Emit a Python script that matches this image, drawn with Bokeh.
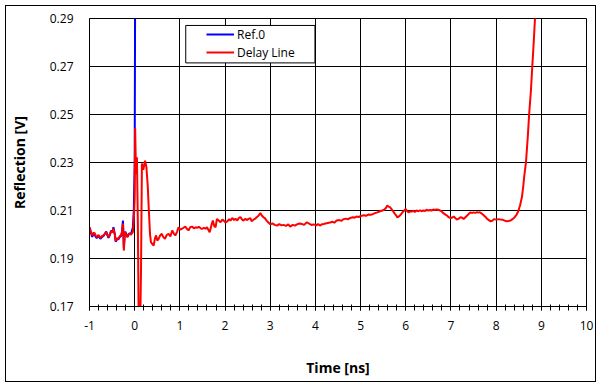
import numpy as np
from bokeh.plotting import figure
from bokeh.models import (Range1d, FixedTicker, Legend, LegendItem, BoxAnnotation,
                          NumeralTickFormatter, ColumnDataSource)
from bokeh.embed import file_html
from bokeh.resources import INLINE

# ---------------- data ----------------
time_delay = [
    -1.00, -0.97, -0.94, -0.91, -0.89, -0.86, -0.84, -0.80, -0.76, -0.72, -0.69, -0.66, -0.63, -0.60,
    -0.58, -0.55, -0.52, -0.49, -0.47, -0.44, -0.42, -0.39, -0.36, -0.33, -0.30, -0.28, -0.26, -0.25,
    -0.24, -0.22, -0.21, -0.18, -0.16, -0.13, -0.11, -0.08, -0.06, -0.04, -0.02, 0.00, 0.01, 0.03,
    0.05, 0.07, 0.09, 0.12, 0.14, 0.16, 0.19, 0.23, 0.26, 0.29, 0.31, 0.34, 0.36, 0.39, 0.42, 0.45,
    0.475, 0.50, 0.53, 0.56, 0.60, 0.63, 0.67, 0.71, 0.75, 0.79, 0.83, 0.87, 0.90, 0.94, 0.97, 1.01,
    1.04, 1.08, 1.12, 1.15, 1.19, 1.23, 1.27, 1.31, 1.35, 1.38, 1.42, 1.46, 1.49, 1.53, 1.57, 1.60,
    1.63, 1.66, 1.70, 1.73, 1.76, 1.79, 1.82, 1.86, 1.90, 1.94, 1.97, 2.01, 2.05, 2.09, 2.12, 2.16,
    2.20, 2.23, 2.27, 2.30, 2.34, 2.38, 2.41, 2.45, 2.48, 2.52, 2.56, 2.59, 2.63, 2.67, 2.70, 2.74,
    2.78, 2.81, 2.85, 2.88, 2.92, 2.96, 3.00, 3.05, 3.10, 3.15, 3.20, 3.25, 3.29, 3.35, 3.40, 3.44,
    3.50, 3.55, 3.59, 3.65, 3.70, 3.75, 3.81, 3.86, 3.91, 3.96, 4.02, 4.06, 4.10, 4.15, 4.18, 4.25,
    4.32, 4.38, 4.42, 4.47, 4.53, 4.58, 4.62, 4.68, 4.72, 4.77, 4.83, 4.87, 4.91, 4.96, 5.02, 5.08,
    5.12, 5.17, 5.23, 5.28, 5.32, 5.37, 5.43, 5.48, 5.52, 5.56, 5.59, 5.62, 5.65, 5.69, 5.72, 5.76,
    5.79, 5.81, 5.84, 5.87, 5.91, 5.95, 6.00, 6.03, 6.06, 6.10, 6.13, 6.17, 6.20, 6.24, 6.28, 6.32,
    6.35, 6.39, 6.43, 6.46, 6.50, 6.54, 6.57, 6.61, 6.65, 6.68, 6.72, 6.76, 6.80, 6.83, 6.87, 6.91,
    6.95, 7.00, 7.03, 7.06, 7.10, 7.13, 7.17, 7.21, 7.25, 7.28, 7.32, 7.36, 7.40, 7.43, 7.47, 7.50,
    7.54, 7.58, 7.61, 7.64, 7.69, 7.73, 7.77, 7.80, 7.84, 7.88, 7.92, 7.95, 8.00, 8.06, 8.10, 8.15,
    8.19, 8.23, 8.27, 8.32, 8.36, 8.41, 8.45, 8.49, 8.53, 8.57, 8.60, 8.62, 8.66, 8.70, 8.73, 8.77,
    8.80, 8.83, 8.86, 8.90,
]
refl_delay = [
    0.2030, 0.2012, 0.1996, 0.2008, 0.2006, 0.1995, 0.1989, 0.1998, 0.1986, 0.1994, 0.1996, 0.2003, 0.2010, 0.1997,
    0.1989, 0.2000, 0.2015, 0.2008, 0.2024, 0.2001, 0.1972, 0.1985, 0.1982, 0.1993, 0.1996, 0.2010, 0.2045, 0.2000,
    0.1933, 0.2000, 0.2010, 0.1995, 0.1989, 0.2000, 0.2003, 0.1999, 0.2006, 0.2010, 0.2058, 0.2150, 0.2444, 0.2250,
    0.2322, 0.2050, 0.1600, 0.1600, 0.1850, 0.2296, 0.2270, 0.2308, 0.2280, 0.2200, 0.2114, 0.2000, 0.1968, 0.1960, 0.1954, 0.1985,
    0.1996, 0.1975, 0.1982, 0.1995, 0.2003, 0.1990, 0.1982, 0.1998, 0.2003, 0.1992, 0.2017, 0.2003, 0.1996, 0.2012, 0.2030, 0.2020,
    0.2023, 0.2028, 0.2033, 0.2025, 0.2017, 0.2030, 0.2033, 0.2026, 0.2030, 0.2028, 0.2032, 0.2026, 0.2023, 0.2028, 0.2024, 0.2030,
    0.2020, 0.2009, 0.2040, 0.2058, 0.2035, 0.2030, 0.2065, 0.2058, 0.2051, 0.2062, 0.2058, 0.2050, 0.2055, 0.2064, 0.2058, 0.2069,
    0.2060, 0.2066, 0.2058, 0.2068, 0.2072, 0.2062, 0.2058, 0.2066, 0.2060, 0.2065, 0.2068, 0.2055, 0.2062, 0.2066, 0.2072, 0.2078,
    0.2089, 0.2080, 0.2072, 0.2068, 0.2058, 0.2050, 0.2042, 0.2046, 0.2040, 0.2037, 0.2043, 0.2038, 0.2040, 0.2036, 0.2042, 0.2033,
    0.2040, 0.2037, 0.2042, 0.2046, 0.2044, 0.2040, 0.2051, 0.2045, 0.2040, 0.2042, 0.2038, 0.2044, 0.2037, 0.2043, 0.2044, 0.2047,
    0.2050, 0.2053, 0.2049, 0.2058, 0.2060, 0.2057, 0.2064, 0.2066, 0.2063, 0.2069, 0.2072, 0.2070, 0.2075, 0.2073, 0.2078, 0.2080,
    0.2078, 0.2083, 0.2082, 0.2086, 0.2089, 0.2092, 0.2097, 0.2100, 0.2103, 0.2110, 0.2121, 0.2116, 0.2114, 0.2105, 0.2097, 0.2086,
    0.2079, 0.2072, 0.2074, 0.2079, 0.2088, 0.2097, 0.2106, 0.2098, 0.2092, 0.2096, 0.2096, 0.2099, 0.2094, 0.2100, 0.2097, 0.2101,
    0.2097, 0.2100, 0.2098, 0.2103, 0.2100, 0.2102, 0.2100, 0.2104, 0.2102, 0.2104, 0.2103, 0.2100, 0.2095, 0.2089, 0.2084, 0.2079,
    0.2072, 0.2069, 0.2071, 0.2075, 0.2068, 0.2062, 0.2066, 0.2072, 0.2070, 0.2065, 0.2072, 0.2079, 0.2087, 0.2092, 0.2090, 0.2092,
    0.2090, 0.2093, 0.2091, 0.2093, 0.2086, 0.2079, 0.2072, 0.2065, 0.2060, 0.2055, 0.2058, 0.2064, 0.2062, 0.2064, 0.2062, 0.2061,
    0.2058, 0.2055, 0.2056, 0.2058, 0.2064, 0.2072, 0.2082, 0.2097, 0.2122, 0.2155, 0.2200, 0.2239, 0.2300, 0.2405, 0.2500, 0.2600,
    0.2700, 0.2795, 0.2900, 0.3050,
]

time_ref = [
    -1.00, -0.97, -0.94, -0.91, -0.89, -0.86, -0.84, -0.80, -0.76, -0.72, -0.69, -0.66, -0.63, -0.60,
    -0.58, -0.55, -0.52, -0.49, -0.47, -0.44, -0.42, -0.39, -0.36, -0.33, -0.30, -0.28, -0.26, -0.25,
    -0.24, -0.22, -0.21, -0.18, -0.16, -0.13, -0.11, -0.08, -0.06, -0.04, -0.02, 0.00, 0.01, 0.03,
]
refl_ref = [
    0.2030, 0.2008, 0.1990, 0.2004, 0.2000, 0.1990, 0.1985, 0.1995, 0.1982, 0.1990, 0.1994, 0.2003, 0.2012, 0.1995,
    0.1986, 0.1998, 0.2017, 0.2010, 0.2031, 0.2000, 0.1970, 0.1980, 0.1980, 0.1990, 0.1994, 0.2012, 0.2058, 0.2010,
    0.1945, 0.2002, 0.2012, 0.1998, 0.1990, 0.2002, 0.2005, 0.2002, 0.2017, 0.2030, 0.2100, 0.2300, 0.3000, 0.4000,
]

x_ticks = [-1, 0, 1, 2, 3, 4, 5, 6, 7, 8, 9, 10]
y_ticks = [0.17, 0.19, 0.21, 0.23, 0.25, 0.27, 0.29]
series_names = ["Ref.0", "Delay Line"]

FONT = "Open Sans"

# ---------------- figure ----------------
p = figure(width=591, height=377, output_backend="svg", toolbar_location=None,
           x_range=Range1d(-1, 10), y_range=Range1d(0.17, 0.29),
           min_border_left=83, min_border_right=11, min_border_top=12, min_border_bottom=77,
           background_fill_color="white", border_fill_color="white")
p.styles = {"margin-left": "5px", "margin-top": "5px", "border": "1px solid black"}
p.outline_line_color = "black"
p.outline_line_width = 1
p.outline_line_alpha = 1

minor = [round(v, 2) for v in np.arange(-1, 10.001, 0.2)]
xticker = FixedTicker(ticks=x_ticks, minor_ticks=minor)
yticker = FixedTicker(ticks=y_ticks, minor_ticks=[])
p.xaxis.ticker = xticker
p.yaxis.ticker = yticker
p.xgrid.ticker = FixedTicker(ticks=x_ticks)
p.ygrid.ticker = FixedTicker(ticks=y_ticks)
for g in (p.xgrid, p.ygrid):
    g.grid_line_color = "black"
    g.grid_line_alpha = 1
    g.grid_line_width = 1

p.yaxis.formatter = NumeralTickFormatter(format="0.00")
p.xaxis.major_label_overrides = {-1: "-1"}
for ax in (p.xaxis, p.yaxis):
    ax.axis_line_color = "black"
    ax.major_label_text_font = FONT
    ax.major_label_text_font_size = "12px"
    ax.major_label_text_color = "black"
    ax.axis_label_text_font = FONT
    ax.axis_label_text_font_size = "14px"
    ax.axis_label_text_font_style = "bold"
    ax.axis_label_text_color = "black"
    ax.major_tick_line_color = "black"
    ax.minor_tick_line_color = "black"

p.xaxis.major_tick_in = 2
p.xaxis.major_tick_out = 4
p.xaxis.minor_tick_in = 2
p.xaxis.minor_tick_out = 4
p.xaxis.major_label_standoff = 10
p.xaxis.axis_label = "Time [ns]"
p.xaxis.axis_label_standoff = 25

p.yaxis.major_tick_in = 0
p.yaxis.major_tick_out = 0
p.yaxis.minor_tick_in = 0
p.yaxis.minor_tick_out = 0
p.yaxis.major_label_standoff = 16
p.yaxis.axis_label = "Reflection [V]"
p.yaxis.axis_label_standoff = 18

src_ref = ColumnDataSource(dict(t=time_ref, v=refl_ref))
src_del = ColumnDataSource(dict(t=time_delay, v=refl_delay))
r_ref = p.line("t", "v", source=src_ref, line_color="#0000FF", line_width=2)
r_del = p.line("t", "v", source=src_del, line_color="#FF0000", line_width=2)

# legend frame (white box with black border)
box = BoxAnnotation(left=1.13, right=3.99, top=0.2871, bottom=0.2715,
                    fill_color="white", fill_alpha=1, line_color="black", line_width=1,
                    line_alpha=1)
p.add_layout(box)

legend = Legend(items=[LegendItem(label=series_names[0], renderers=[r_ref]),
                       LegendItem(label=series_names[1], renderers=[r_del])],
                location=(117, 245), padding=0, margin=0, spacing=0,
                glyph_width=28, glyph_height=18, label_height=18, label_standoff=3,
                label_text_font=FONT, label_text_font_size="12px", label_text_color="black",
                border_line_alpha=0, background_fill_alpha=0)
p.add_layout(legend)

open("out.html", "w").write(file_html(p, INLINE))
